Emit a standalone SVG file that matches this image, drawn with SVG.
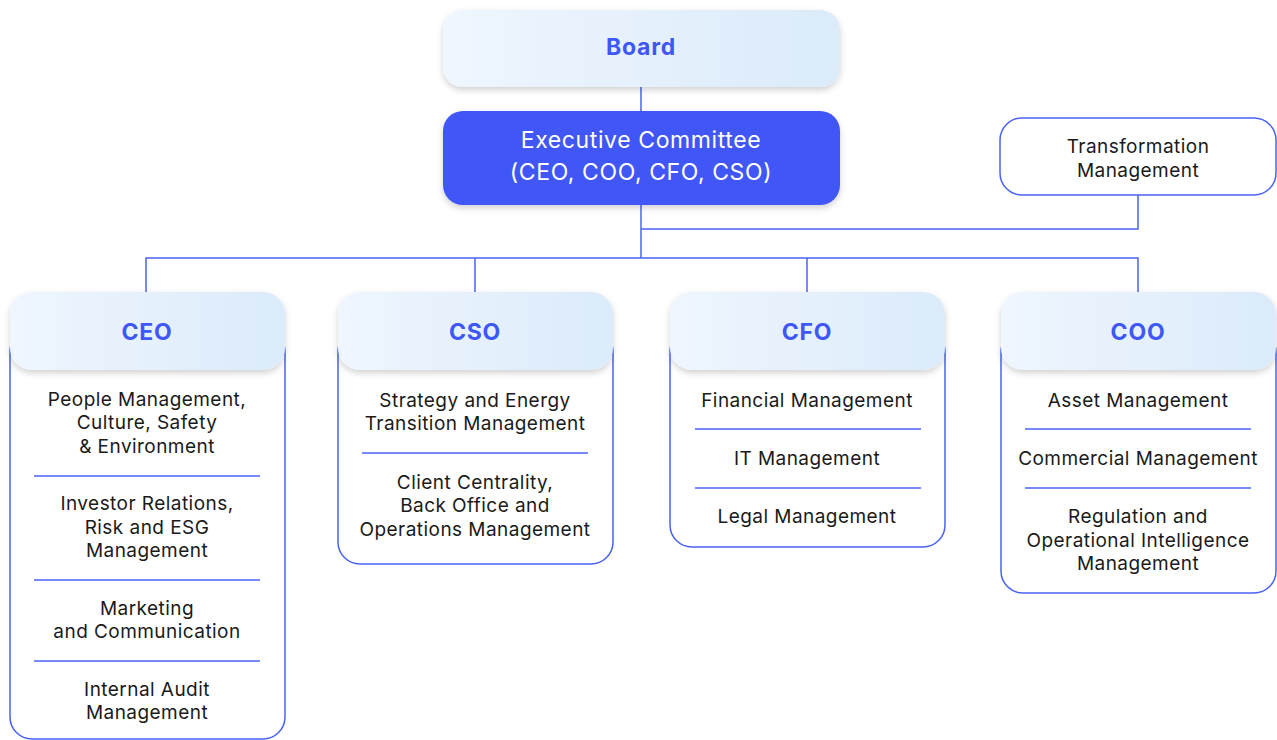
<svg xmlns="http://www.w3.org/2000/svg" width="1277" height="740" viewBox="0 0 1277 740">
<defs>
<linearGradient id="hg" x1="0" y1="0" x2="1" y2="0">
<stop offset="0" stop-color="#eff6fe"/>
<stop offset="1" stop-color="#dbebfa"/>
</linearGradient>
<filter id="sh" x="-10%" y="-20%" width="120%" height="150%">
<feDropShadow dx="0" dy="3" stdDeviation="3" flood-color="#000" flood-opacity="0.18"/>
</filter>
</defs>
<style>
.hdr{fill:url(#hg);filter:url(#sh)}
.ht{font-family:Inter,"Noto Sans",sans-serif;font-weight:700;font-size:23px;letter-spacing:0.8px;fill:#3f57f5;text-anchor:middle}
.body{fill:#fff;stroke:#4a63f5;stroke-width:1.5}
.t{font-family:Inter,"Noto Sans",sans-serif;font-size:19px;letter-spacing:0.45px;fill:#1a1a1a;text-anchor:middle}
.w{fill:#fff;font-size:23px;letter-spacing:0.6px}
.div{stroke:#4a63f5;stroke-width:1.3}
.conn{fill:none;stroke:#4a63f5;stroke-width:1.5}
</style>
<rect width="1277" height="740" fill="#fff"/>
<g id="connectors">
<path class="conn" d="M641 87V111"/>
<path class="conn" d="M641 205V258"/>
<path class="conn" d="M641 229H1138V195"/>
<path class="conn" d="M146 292V258H1138V292"/>
<path class="conn" d="M475 258V292"/>
<path class="conn" d="M807 258V292"/>
</g>
<g id="board">
<rect class="hdr" x="443" y="10" width="397" height="77" rx="20"/>
<text class="ht" x="641" y="55">Board</text>
</g>
<g id="exec">
<rect x="443" y="111" width="397" height="94" rx="20" fill="#3f57f7" filter="url(#sh)"/>
<text class="t w" x="641" y="148">Executive Committee</text>
<text class="t w" x="641" y="180">(CEO, COO, CFO, CSO)</text>
</g>
<g id="transformation">
<rect class="body" x="1000" y="118" width="276" height="77" rx="22"/>
<text class="t" x="1138" y="153">Transformation</text>
<text class="t" x="1138" y="177">Management</text>
</g>
<g id="ceo">
<rect class="body" x="10" y="330" width="275" height="409" rx="22"/>
<rect class="hdr" x="10" y="292" width="275" height="78" rx="22"/>
<text class="ht" x="147" y="340">CEO</text>
<text class="t" x="147" y="406">People Management,</text>
<text class="t" x="147" y="429">Culture, Safety</text>
<text class="t" x="147" y="453">&amp; Environment</text>
<line class="div" x1="34" y1="476" x2="260" y2="476"/>
<text class="t" x="147" y="510">Investor Relations,</text>
<text class="t" x="147" y="534">Risk and ESG</text>
<text class="t" x="147" y="557">Management</text>
<line class="div" x1="34" y1="580" x2="260" y2="580"/>
<text class="t" x="147" y="615">Marketing</text>
<text class="t" x="147" y="638">and Communication</text>
<line class="div" x1="34" y1="661" x2="260" y2="661"/>
<text class="t" x="147" y="696">Internal Audit</text>
<text class="t" x="147" y="719">Management</text>
</g>
<g id="cso">
<rect class="body" x="338" y="330" width="275" height="234" rx="22"/>
<rect class="hdr" x="338" y="292" width="275" height="78" rx="22"/>
<text class="ht" x="475" y="340">CSO</text>
<text class="t" x="475" y="407">Strategy and Energy</text>
<text class="t" x="475" y="430">Transition Management</text>
<line class="div" x1="362" y1="453" x2="588" y2="453"/>
<text class="t" x="475" y="489">Client Centrality,</text>
<text class="t" x="475" y="512">Back Office and</text>
<text class="t" x="475" y="536">Operations Management</text>
</g>
<g id="cfo">
<rect class="body" x="670" y="330" width="275" height="217" rx="22"/>
<rect class="hdr" x="670" y="292" width="275" height="78" rx="22"/>
<text class="ht" x="807" y="340">CFO</text>
<text class="t" x="807" y="407">Financial Management</text>
<line class="div" x1="695" y1="429" x2="921" y2="429"/>
<text class="t" x="807" y="465">IT Management</text>
<line class="div" x1="695" y1="488" x2="921" y2="488"/>
<text class="t" x="807" y="523">Legal Management</text>
</g>
<g id="coo">
<rect class="body" x="1001" y="330" width="275" height="263" rx="22"/>
<rect class="hdr" x="1001" y="292" width="275" height="78" rx="22"/>
<text class="ht" x="1138" y="340">COO</text>
<text class="t" x="1138" y="407">Asset Management</text>
<line class="div" x1="1025" y1="429" x2="1251" y2="429"/>
<text class="t" x="1138" y="465">Commercial Management</text>
<line class="div" x1="1025" y1="488" x2="1251" y2="488"/>
<text class="t" x="1138" y="523">Regulation and</text>
<text class="t" x="1138" y="547">Operational Intelligence</text>
<text class="t" x="1138" y="570">Management</text>
</g>
</svg>
